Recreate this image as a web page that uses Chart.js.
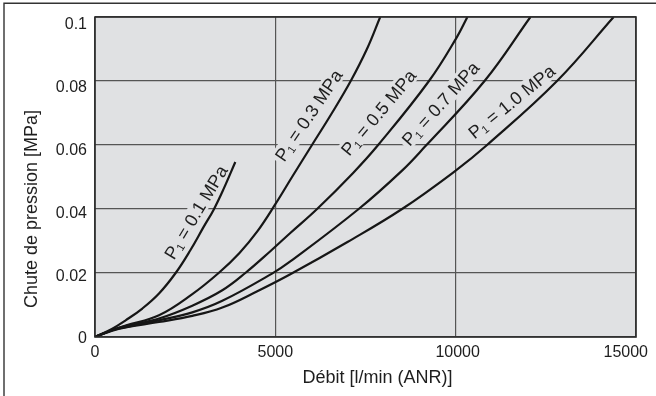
<!DOCTYPE html>
<html>
<head>
<meta charset="utf-8">
<script src="https://cdn.jsdelivr.net/npm/chart.js@4.4.1/dist/chart.umd.min.js"></script>
<style>
  html, body { margin: 0; padding: 0; background: #fff; }
  #wrap { width: 656px; height: 396px; }
</style>
</head>
<body>
<div id="wrap"><canvas id="chart" width="656" height="396"></canvas></div>
<script>
// Courbes : chute de pression [MPa] en fonction du débit [l/min (ANR)]
const pressures = ['0.1', '0.3', '0.5', '0.7', '1.0'];

const flow_p01 = [0, 480, 849, 1312, 1775, 2236, 2643, 3012, 3290, 3567, 3890];
const drop_p01 = [0, 0.0026, 0.0052, 0.0089, 0.0136, 0.0200, 0.0271, 0.0344, 0.0398, 0.0463, 0.0547];

const flow_p03 = [0, 480, 849, 1775, 2698, 3428, 4000, 4500, 5000, 5463, 6016, 6570, 7090, 7540, 7907];
const drop_p03 = [0, 0.0022, 0.0036, 0.0068, 0.0134, 0.0200, 0.0262, 0.0330, 0.0415, 0.0500, 0.0600, 0.0700, 0.0800, 0.0900, 0.1000];

const flow_p05 = [0, 480, 849, 1775, 2698, 3530, 4168, 4861, 5415, 6157, 7150, 7850, 9260, 10038, 10325];
const drop_p05 = [0, 0.0022, 0.0034, 0.0058, 0.0098, 0.0146, 0.0200, 0.0268, 0.0325, 0.0400, 0.0512, 0.0600, 0.0800, 0.0938, 0.1000];

const flow_p07 = [0, 480, 849, 1775, 2698, 3530, 4908, 5415, 7311, 8513, 9150, 10800, 12072];
const drop_p07 = [0, 0.0021, 0.0031, 0.0052, 0.0077, 0.0113, 0.0198, 0.0236, 0.0400, 0.0520, 0.0595, 0.0800, 0.1000];

const flow_p10 = [0, 480, 849, 1775, 2698, 3530, 4500, 5415, 7000, 8513, 10000, 10870, 12810, 14380];
const drop_p10 = [0, 0.0020, 0.0030, 0.0047, 0.0066, 0.0092, 0.0143, 0.0196, 0.0297, 0.0400, 0.0520, 0.0600, 0.0800, 0.1000];

// Graduations
const xTicks = [0, 5000, 10000, 15000];
const xTickLabels = ['0', '5000', '10000', '15000'];
const yTicks = [0, 0.02, 0.04, 0.06, 0.08, 0.1];
const yTickLabels = ['0', '0.02', '0.04', '0.06', '0.08', '0.1'];

const xTitle = 'Débit [l/min (ANR)]';
const yTitle = 'Chute de pression [MPa]';

const flows = [flow_p01, flow_p03, flow_p05, flow_p07, flow_p10];
const drops = [drop_p01, drop_p03, drop_p05, drop_p07, drop_p10];

const TEXT = '#1e1e1e';
const FONT = '"Liberation Sans", Arial, Helvetica, sans-serif';
const PLOT_BG = '#e0e1e3';

// Position des étiquettes des courbes (en unités du graphique) et angle
const curveLabels = [
    { flow: 2790, drop: 0.0390, angle: -59 },
    { flow: 5915, drop: 0.0693, angle: -56 },
    { flow: 7856, drop: 0.0702, angle: -50 },
    { flow: 9575, drop: 0.0730, angle: -48 },
    { flow: 11544, drop: 0.0736, angle: -39 }
];

function buildDatasets() {
    return pressures.map((p, i) => ({
        label: 'P1 = ' + p + ' MPa',
        data: flows[i].map((f, j) => ({ x: f, y: drops[i][j] })),
        borderColor: '#161616',
        borderWidth: 2.2,
        pointRadius: 0,
        fill: false,
        showLine: true,
        tension: 0.4
    }));
}

// Fond de la zone de tracé et cadre extérieur
const backgroundPlugin = {
    id: 'plotBackground',
    beforeDraw(chart) {
        const { ctx, chartArea: a } = chart;
        ctx.save();
        ctx.fillStyle = '#ffffff';
        ctx.fillRect(0, 0, chart.width, chart.height);
        ctx.fillStyle = PLOT_BG;
        ctx.fillRect(a.left, a.top, a.right - a.left, a.bottom - a.top);
        ctx.strokeStyle = '#333';
        ctx.lineWidth = 1.4;
        ctx.beginPath();
        ctx.moveTo(4, chart.height);
        ctx.lineTo(4, 3.3);
        ctx.lineTo(chart.width, 3.3);
        ctx.stroke();
        ctx.restore();
    }
};

function drawCurveLabel(ctx, text) {
    ctx.font = '18px ' + FONT;
    const wP = ctx.measureText('P').width;
    ctx.font = '11px ' + FONT;
    const w1 = ctx.measureText('1').width;
    ctx.font = '18px ' + FONT;
    const rest = ' = ' + text + ' MPa';
    const wr = ctx.measureText(rest).width;
    const total = wP + w1 + wr;
    let x = -total / 2;
    ctx.fillStyle = PLOT_BG;
    ctx.fillRect(x - 3, -9, total + 6, 18);
    ctx.fillStyle = TEXT;
    ctx.textBaseline = 'alphabetic';
    ctx.textAlign = 'left';
    ctx.fillText('P', x, 6.5);
    x += wP;
    ctx.font = '11px ' + FONT;
    ctx.fillText('1', x, 9);
    x += w1;
    ctx.font = '18px ' + FONT;
    ctx.fillText(rest, x, 6.5);
}

// Étiquettes des courbes, sous les courbes mais au-dessus de la grille
const curveLabelPlugin = {
    id: 'curveLabels',
    beforeDatasetsDraw(chart) {
        const { ctx, scales: { x, y } } = chart;
        curveLabels.forEach((l, i) => {
            ctx.save();
            ctx.translate(x.getPixelForValue(l.flow), y.getPixelForValue(l.drop));
            ctx.rotate(l.angle * Math.PI / 180);
            drawCurveLabel(ctx, pressures[i]);
            ctx.restore();
        });
    }
};

// Graduations, titres des axes et bordure du tracé
const axisTextPlugin = {
    id: 'axisText',
    afterDraw(chart) {
        const { ctx, chartArea: a, scales: { x, y } } = chart;
        ctx.save();
        ctx.strokeStyle = '#2a2a2a';
        ctx.lineWidth = 1.6;
        ctx.strokeRect(a.left, a.top, a.right - a.left, a.bottom - a.top);

        ctx.fillStyle = TEXT;
        ctx.font = '16px ' + FONT;
        ctx.textBaseline = 'middle';
        ctx.textAlign = 'right';
        yTicks.forEach((v, i) => {
            const off = 2 + 60 * v;
            ctx.fillText(yTickLabels[i], a.left - 8, y.getPixelForValue(v) + off);
        });
        xTicks.forEach((v, i) => {
            const px = x.getPixelForValue(v);
            if (i === xTicks.length - 1) {
                ctx.textAlign = 'right';
                ctx.fillText(xTickLabels[i], px + 12, a.bottom + 16);
            } else {
                ctx.textAlign = 'center';
                ctx.fillText(xTickLabels[i], px + (v === 10000 ? 2 : 0), a.bottom + 16);
            }
        });

        ctx.font = '18px ' + FONT;
        ctx.textAlign = 'center';
        ctx.fillText(xTitle, (a.left + a.right) / 2 + 12, a.bottom + 41);
        ctx.translate(32, (a.top + a.bottom) / 2 + 32);
        ctx.rotate(-Math.PI / 2);
        ctx.fillText(yTitle, 0, 0);
        ctx.restore();
    }
};

function initChart() {
    const ctx = document.getElementById('chart').getContext('2d');
    new Chart(ctx, {
        type: 'scatter',
        data: { datasets: buildDatasets() },
        options: {
            responsive: false,
            devicePixelRatio: 1,
            animation: false,
            layout: { padding: { left: 95, top: 17, right: 20, bottom: 59 } },
            plugins: {
                legend: { display: false },
                tooltip: { enabled: false }
            },
            scales: {
                x: {
                    type: 'linear',
                    min: 0,
                    max: 15000,
                    afterBuildTicks: (scale) => { scale.ticks = xTicks.map(v => ({ value: v })); },
                    ticks: { display: false },
                    grid: { color: '#555', lineWidth: 1.2, drawTicks: false },
                    border: { display: false },
                    title: { display: false }
                },
                y: {
                    type: 'linear',
                    min: 0,
                    max: 0.1,
                    afterBuildTicks: (scale) => { scale.ticks = yTicks.map(v => ({ value: v })); },
                    ticks: { display: false },
                    grid: { color: '#555', lineWidth: 1.2, drawTicks: false },
                    border: { display: false },
                    title: { display: false }
                }
            }
        },
        plugins: [backgroundPlugin, curveLabelPlugin, axisTextPlugin]
    });
}

document.addEventListener('DOMContentLoaded', initChart);
</script>
</body>
</html>
